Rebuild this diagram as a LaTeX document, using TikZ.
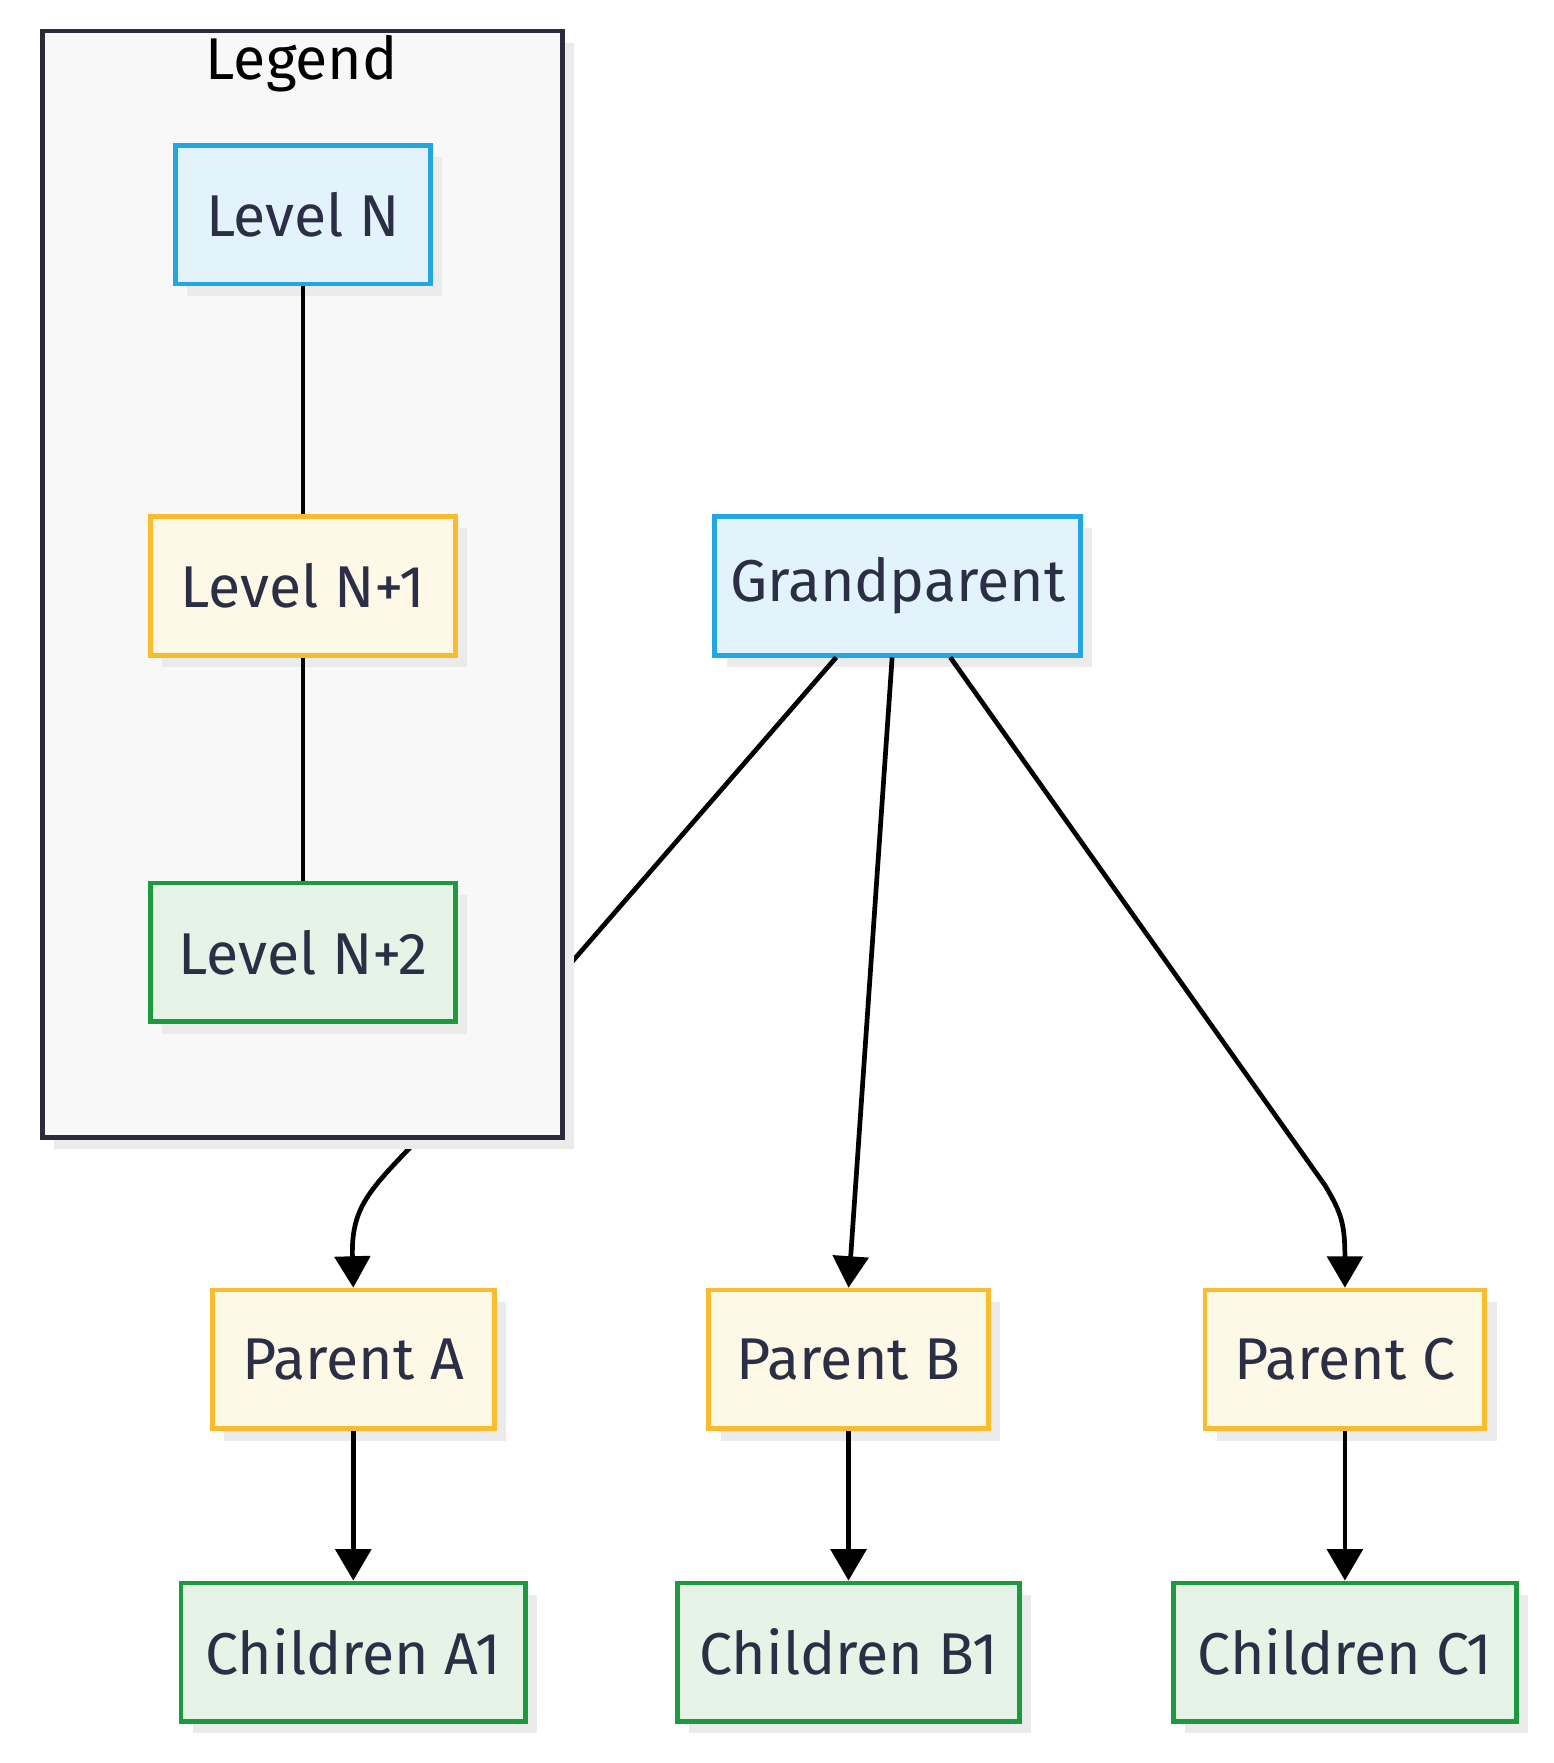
\documentclass[tikz,border=0pt]{standalone}
\usepackage{fontspec}
\setmainfont{Fira Sans}
\usetikzlibrary{arrows.meta,shadows}
\definecolor{blueline}{HTML}{22A7E3}
\definecolor{bluefill}{HTML}{E2F3FC}
\definecolor{yellowline}{HTML}{F8BC2E}
\definecolor{yellowfill}{HTML}{FEF8E7}
\definecolor{greenline}{HTML}{1E9A3E}
\definecolor{greenfill}{HTML}{E6F3E7}
\definecolor{legendline}{HTML}{2B2B3B}
\definecolor{legendfill}{HTML}{F8F8F8}
\definecolor{textcol}{HTML}{2A2F45}
\begin{document}
\begin{tikzpicture}[
        x=0.01cm, y=-0.01cm,
        font=\fontsize{15}{18}\selectfont,
        box/.style={
            rectangle, line width=1.2pt, text=textcol,
            minimum height=1.24cm, inner sep=0pt,
            drop shadow={shadow xshift=3pt, shadow yshift=-3pt, fill=black!8, opacity=1}
        },
        lvlN/.style={box, draw=blueline, fill=bluefill},
        lvlA/.style={box, draw=yellowline, fill=yellowfill},
        lvlB/.style={box, draw=greenline, fill=greenfill},
        line/.style={line width=1.2pt, black},
        arrow/.style={line, -{Triangle[width=9pt,length=8pt]}}
    ]
        \useasboundingbox (0,0) rectangle (1390,1577);

        % Grandparent
        \node[lvlN, minimum width=3.27cm] (grand) at (803,524) {Grandparent};

        % Parents
        \node[lvlA, minimum width=2.52cm] (parA) at (316,1216) {Parent A};
        \node[lvlA, minimum width=2.50cm] (parB) at (759,1216) {Parent B};
        \node[lvlA, minimum width=2.50cm] (parC) at (1203,1216) {Parent C};

        % Children
        \node[lvlB, minimum width=3.08cm] (chA) at (316,1478) {Children A1};
        \node[lvlB, minimum width=3.06cm] (chB) at (759,1478) {Children B1};
        \node[lvlB, minimum width=3.07cm] (chC) at (1203,1478) {Children C1};

        % Grandparent -> Parent A (passes behind legend)
        \coordinate (gA) at (748,588);
        \coordinate (lgIn) at (505,868);
        \coordinate (lgOut) at (373,1020);
        \draw[arrow] (gA) -- (lgIn) -- (lgOut)
            .. controls (330,1065) and (314,1080) .. (parA.north);

        % Legend
        \node[draw=legendline, fill=legendfill, line width=1.2pt,
              minimum width=4.65cm, minimum height=9.89cm, inner sep=0pt,
              drop shadow={shadow xshift=3pt, shadow yshift=-3pt, fill=black!8, opacity=1}]
              (legend) at (270.5,522.5) {};
        \node[text=black] (legendTitle) at (270,57) {Legend};
        \node[lvlN, minimum width=2.28cm] (levN) at (271,192) {Level N};
        \node[lvlA, minimum width=2.73cm] (levN1) at (271,524) {Level N+1};
        \node[lvlB, minimum width=2.73cm] (levN2) at (271,852) {Level N+2};
        \draw[line] (levN) -- (levN1);
        \draw[line] (levN1) -- (levN2);

        % Grandparent -> Parents B, C
        \draw[arrow] (grand.south) ++(-5,0) coordinate (gB) -- (parB.north);
        \coordinate (gC) at (850,588);
        \draw[arrow] (gC) -- (1185,1060)
            .. controls (1200,1085) and (1203,1095) .. (parC.north);

        % Parents -> Children
        \draw[arrow] (parA) -- (chA);
        \draw[arrow] (parB) -- (chB);
        \draw[arrow] (parC) -- (chC);

    \end{tikzpicture}
\end{document}
